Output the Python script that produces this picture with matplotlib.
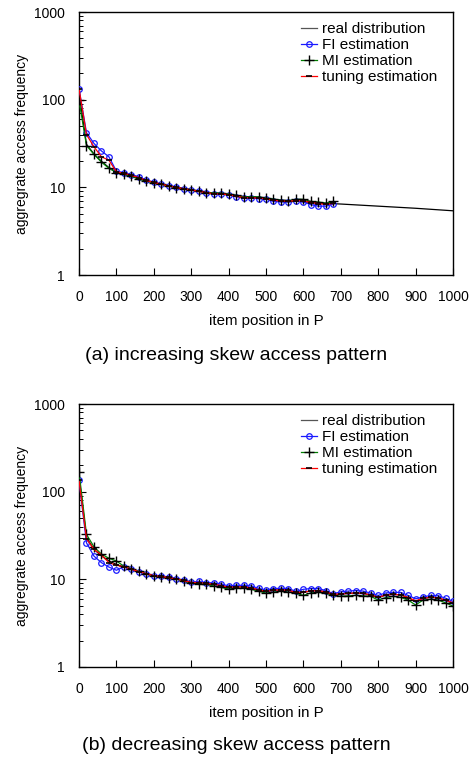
import matplotlib
matplotlib.use("Agg")
import matplotlib.pyplot as plt
from matplotlib.ticker import LogLocator, NullFormatter, FixedLocator

plt.rcParams['font.family'] = ['Liberation Sans', 'DejaVu Sans']

# ---------------- data: (a) increasing skew ----------------
a_est_x = list(range(0, 700, 20))
a_real_x = [0, 20, 40, 60, 80, 100, 120, 140, 160, 180, 200, 240, 280, 320, 360,
            400, 450, 500, 550, 600, 650, 700, 800, 900, 1000]
a_real = [120, 31, 24, 19.8, 16.8, 15.0, 14.2, 13.4, 12.5, 11.9, 11.3, 10.4, 9.7, 9.1, 8.6,
          8.2, 7.8, 7.45, 7.1, 6.85, 6.6, 6.45, 6.1, 5.77, 5.4]
a_fi = [134, 42, 31.7, 26, 22.3, 15.3, 14.7, 13.9, 13.2, 12.1, 11.4, 10.9, 10.35, 10.0, 9.65,
        9.3, 9.0, 8.7, 8.4, 8.4, 8.2, 7.8, 7.55, 7.55, 7.4, 7.35, 6.9, 6.8, 6.8, 7.0,
        6.8, 6.35, 6.1, 6.1, 6.45]
a_mi = [98, 30, 23.8, 19.4, 16.5, 14.7, 14.1, 13.4, 12.4, 11.8, 11.3, 10.8, 10.35, 9.9, 9.65,
        9.4, 9.0, 8.7, 8.65, 8.6, 8.4, 8.1, 7.8, 7.8, 7.8, 7.55, 7.35, 7.1, 7.05, 7.3,
        7.3, 6.9, 6.8, 6.6, 6.9]
a_tun = [134, 40, 29, 22.3, 20.4, 15.0, 14.5, 13.7, 12.9, 12.0, 11.4, 10.9, 10.35, 10.0, 9.65,
         9.35, 9.0, 8.7, 8.45, 8.4, 8.25, 7.9, 7.65, 7.6, 7.55, 7.4, 7.1, 7.0, 6.95, 7.05,
         7.0, 6.7, 6.5, 6.4, 6.55]

# ---------------- data: (b) decreasing skew ----------------
b_x = list(range(0, 1001, 20))
b_real = [150, 30, 22, 18.5, 16.2, 14.8, 13.8, 13.0, 12.2, 11.6, 11.0, 10.8, 10.5, 10.1, 9.7,
          9.2, 9.2, 9.0, 8.8, 8.5, 8.1, 8.2, 8.2, 8.0, 7.6, 7.25, 7.5, 7.6, 7.5, 7.1,
          7.1, 7.4, 7.45, 7.2, 6.7, 6.8, 6.9, 7.0, 6.9, 6.65, 6.2, 6.6, 6.75, 6.65, 6.2,
          5.6, 6.05, 6.25, 6.15, 5.75, 5.3]
b_fi = [135, 26.1, 18.4, 15.5, 13.8, 12.7, 13.9, 13.0, 12.1, 11.5, 11.0, 11.0, 10.6, 10.2, 9.75,
        9.3, 9.45, 9.2, 9.1, 8.85, 8.4, 8.55, 8.55, 8.4, 7.9, 7.55, 7.85, 7.9, 7.85, 7.3,
        7.7, 7.85, 7.85, 7.45, 6.85, 7.2, 7.35, 7.45, 7.35, 6.95, 6.55, 7.0, 7.1, 7.1, 6.55,
        6.0, 6.3, 6.55, 6.5, 6.1, 5.6]
b_mi = [168, 32.6, 23.5, 19.4, 17.4, 16.2, 14.1, 13.2, 12.3, 11.6, 10.9, 10.7, 10.4, 10.1, 9.6,
        9.0, 8.95, 8.8, 8.4, 8.1, 7.75, 7.9, 7.95, 7.7, 7.35, 6.95, 7.15, 7.3, 7.15, 6.95,
        6.55, 7.0, 7.1, 6.95, 6.55, 6.4, 6.5, 6.55, 6.5, 6.4, 5.8, 6.2, 6.4, 6.25, 5.8,
        5.1, 5.8, 5.95, 5.8, 5.4, 4.95]
b_tun = [135, 29, 22, 19, 15.5, 14.5, 13.9, 13.1, 12.2, 11.6, 11.0, 10.8, 10.5, 10.1, 9.7,
         9.2, 9.2, 9.0, 8.8, 8.5, 8.1, 8.2, 8.2, 8.0, 7.6, 7.3, 7.5, 7.6, 7.5, 7.1,
         7.1, 7.4, 7.4, 7.2, 6.75, 6.8, 6.9, 7.0, 6.9, 6.65, 6.25, 6.6, 6.75, 6.65, 6.2,
         5.7, 6.05, 6.25, 6.15, 5.8, 5.4]

labels = ["real distribution", "FI estimation", "MI estimation", "tuning estimation"]
x_ticks = list(range(0, 1001, 100))
y_ticks = [1, 10, 100, 1000]
y_ticklabels = ["1", "10", "100", "1000"]

W, H = 473, 758
AX_L, AX_R = 79, 453
fig = plt.figure(figsize=(W / 100, H / 100), dpi=100)

def make_axes(top_px, bottom_px):
    return fig.add_axes([AX_L / W, 1 - bottom_px / H, (AX_R - AX_L) / W, (bottom_px - top_px) / H])

def style(ax):
    ax.set_yscale('log')
    ax.set_xlim(0, 1000)
    ax.set_ylim(1, 1000)
    ax.xaxis.set_major_locator(FixedLocator(x_ticks))
    ax.set_yticks(y_ticks)
    ax.set_yticklabels(y_ticklabels)
    ax.yaxis.set_minor_locator(LogLocator(base=10, subs=range(2, 10)))
    ax.yaxis.set_minor_formatter(NullFormatter())
    ax.tick_params(axis='both', which='major', direction='in', length=5, width=0.8,
                   labelsize=10, colors='black')
    ax.tick_params(axis='x', pad=11)
    ax.tick_params(axis='y', pad=10)
    ax.tick_params(axis='y', which='minor', direction='in', length=3, width=0.7)
    for s in ax.spines.values():
        s.set_linewidth(1.0)
    ax.set_xlabel("item position in P", fontsize=10.8, labelpad=7)
    ax.set_ylabel("aggregrate access frequency", fontsize=10, labelpad=4)

def draw(ax, real_x, real, est_x, fi, mi, tun):
    h_real, = ax.plot(real_x, real, color='black', lw=0.9, zorder=2)
    h_fi, = ax.plot(est_x, fi, color='#1a1aff', lw=0.9, marker='o', ms=4.0,
                    mfc='none', mec='#1a1aff', mew=0.9, zorder=3)
    h_mi, = ax.plot(est_x, mi, color='#008000', lw=0.9, marker='+', ms=7,
                    mec='black', mew=1.0, zorder=4)
    h_tun, = ax.plot(est_x, tun, color='red', lw=0.9, marker='_', ms=5,
                     mec='black', mew=1.2, zorder=5)
    h_ax = ax.get_position().height * H
    anchor_x = (301 - AX_L) / (AX_R - AX_L)
    anchor_y = 1 - 10 / h_ax
    leg = ax.legend([h_real, h_fi, h_mi, h_tun], labels, loc='upper left',
                    bbox_to_anchor=(anchor_x, anchor_y), frameon=False, fontsize=11,
                    handlelength=1.05, handletextpad=0.3, labelspacing=0.14,
                    borderaxespad=0.0, borderpad=0.0)
    leg.get_lines()[0].set_color('#555555')

ax1 = make_axes(12, 275)
style(ax1)
draw(ax1, a_real_x, a_real, a_est_x, a_fi, a_mi, a_tun)

ax2 = make_axes(404, 667)
style(ax2)
draw(ax2, b_x, b_real, b_x, b_fi, b_mi, b_tun)

fig.text(0.5, 1 - 355 / H, "(a) increasing skew access pattern", ha='center', va='center', fontsize=14)
fig.text(0.5, 1 - 746 / H, "(b) decreasing skew access pattern", ha='center', va='center', fontsize=14)

fig.savefig("out.png", dpi=100)
